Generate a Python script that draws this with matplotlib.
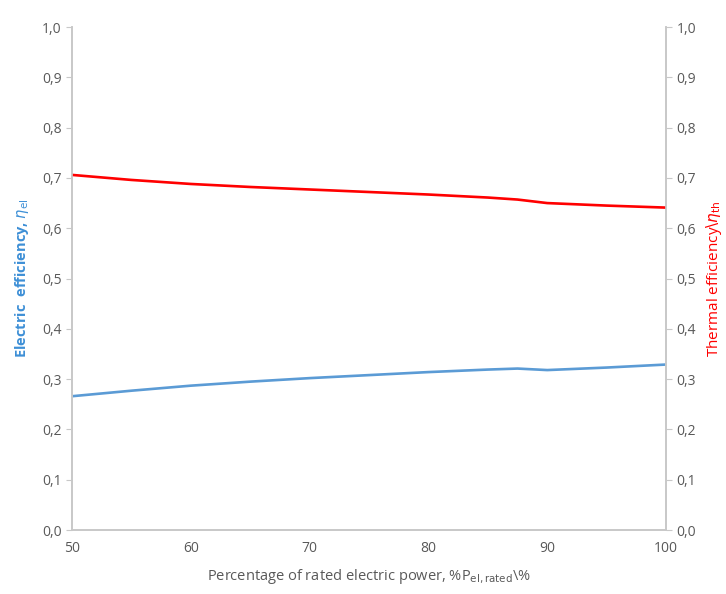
import matplotlib.pyplot as plt
from matplotlib.ticker import FuncFormatter

power_pct = [50, 55, 60, 65, 70, 75, 80, 85, 87.5, 90, 95, 100]
eta_el = [0.266, 0.277, 0.287, 0.295, 0.302, 0.308, 0.314, 0.319, 0.321, 0.318, 0.323, 0.329]
eta_th = [0.706, 0.696, 0.688, 0.682, 0.677, 0.672, 0.667, 0.661, 0.657, 0.650, 0.645, 0.641]
y_ticks = [0.0, 0.1, 0.2, 0.3, 0.4, 0.5, 0.6, 0.7, 0.8, 0.9, 1.0]

grey = "#595959"
spine = "#c8c8c8"
blue = "#5b9bd5"
red = "#ff0000"

plt.rcParams["font.family"] = ["Open Sans", "DejaVu Sans"]

fig = plt.figure(figsize=(7.26, 5.94), dpi=100)
ax = fig.add_axes([0.0992, 0.1077, 0.8182, 0.8468])
ax2 = ax.twinx()

ax.plot(power_pct, eta_el, color=blue, lw=1.9)
ax2.plot(power_pct, eta_th, color=red, lw=1.9)

comma = FuncFormatter(lambda v, p: f"{v:.1f}".replace(".", ","))
for a in (ax, ax2):
    a.set_ylim(0, 1.0)
    a.set_yticks(y_ticks)
    a.yaxis.set_major_formatter(comma)
    a.set_xlim(50, 100)
    a.tick_params(colors=grey, labelcolor=grey, labelsize=10, length=4, color=spine)
    for s in a.spines.values():
        s.set_color(spine)
        s.set_linewidth(1.2)
    a.spines["top"].set_visible(False)

ax.set_xticks([50, 60, 70, 80, 90, 100])
ax.tick_params(axis="x", length=0, pad=8)

ax.set_xlabel(r"Percentage of rated electric power, %P$_{\mathrm{el,rated}}$\%",
              color=grey, fontsize=10.5, labelpad=8)
ax.set_ylabel(r"Electric  efficiency, $\eta_{\mathrm{el}}$", color="#3d8fd6",
              fontsize=10.5, fontweight="bold", labelpad=8)
ax2.set_ylabel(r"Thermal efficiency$\backslash\eta_{\mathrm{th}}$", color=red,
               fontsize=11, rotation=90, labelpad=6)

fig.savefig("out.png", dpi=100)
